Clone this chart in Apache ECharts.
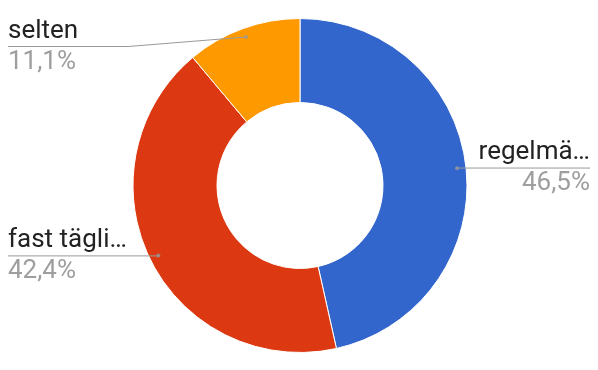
<!DOCTYPE html>
<html><head><meta charset="utf-8">
<script src="https://cdn.jsdelivr.net/npm/echarts@6/dist/echarts.min.js"></script>
<style>html,body{margin:0;padding:0;background:#fff}#c{width:598px;height:370px}</style>
</head><body><div id="c"></div>
<script>
const categories = ['regelmä…', 'fast tägli…', 'selten'];
const values = [46.5, 42.4, 11.1];
const colors = ['#3366cc', '#dc3912', '#ff9900'];

const total = values.reduce((a, b) => a + b, 0);
const fmtPct = v => v.toFixed(1).replace('.', ',') + '%';
const pieData = categories.map((n, i) => ({ name: n, value: values[i], itemStyle: { color: colors[i] } }));
let cum = 0;
const dotData = values.map(v => { const mid = cum + v / 2; cum += v; return [158, mid]; });

const CENTER = [300, 185.5];
const TOP_MIN = 18;
const chart = echarts.init(document.getElementById('c'), null, { renderer: 'canvas' });
chart.setOption({
  animation: false,
  textStyle: { fontFamily: 'Roboto' },
  polar: { center: CENTER, radius: 167 },
  angleAxis: { type: 'value', min: 0, max: total, startAngle: 90, clockwise: true, show: false },
  radiusAxis: { type: 'value', min: 0, max: 167, show: false },
  series: [
    {
      type: 'pie', center: CENTER, radius: [83, 167], startAngle: 90, clockwise: true,
      silent: true, label: { show: false }, labelLine: { show: false },
      itemStyle: { borderColor: '#fff', borderWidth: 1 },
      data: pieData, z: 1
    },
    {
      type: 'pie', center: CENTER, radius: [0, 158], startAngle: 90, clockwise: true,
      silent: true, z: 2,
      itemStyle: { color: 'rgba(0,0,0,0)', borderWidth: 0 },
      data: categories.map((n, i) => ({ name: n, value: values[i] })),
      label: {
        show: true, position: 'outer', alignTo: 'edge', edgeDistance: 8,
        formatter: p => '{n|' + p.name + '}\n{p|' + fmtPct(p.value) + '}',
        rich: {
          n: { fontFamily: 'Roboto', fontSize: 26, color: '#222', lineHeight: 31 },
          p: { fontFamily: 'Roboto', fontSize: 26, color: '#9e9e9e', lineHeight: 31 }
        }
      },
      labelLine: { show: true, length: 1, length2: 10, smooth: false, lineStyle: { color: '#999', width: 1 } },
      labelLayout: function (params) {
        const pts = params.labelLinePoints;
        const r = params.labelRect;
        if (!pts || !r) return {};
        const last = pts[pts.length - 1];
        const isLeft = r.x + r.width / 2 < CENTER[0];
        const endX = isLeft ? r.x : r.x + r.width;
        const innerX = isLeft ? r.x + r.width : r.x;
        const shift = r.y < TOP_MIN ? TOP_MIN - r.y : 0;
        if (shift > 0) {
          const y = last[1] + shift;
          const bendX = isLeft ? innerX + 50 : innerX - 50;
          return { dy: shift, labelLinePoints: [pts[0], [bendX, y], [endX, y]] };
        }
        return { labelLinePoints: [pts[0], pts[1], [endX, last[1]]] };
      }
    },
    {
      type: 'scatter', coordinateSystem: 'polar', silent: true, z: 3,
      symbol: 'circle', symbolSize: 4,
      itemStyle: { color: '#999' },
      data: dotData
    }
  ]
});
</script></body></html>
